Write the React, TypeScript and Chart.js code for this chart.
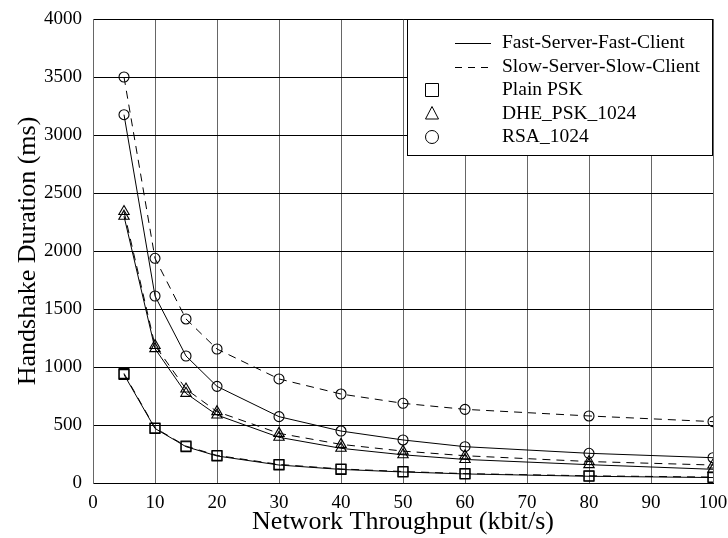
import React, { useEffect, useRef } from "react";
import { Chart, registerables } from "chart.js";

Chart.register(...registerables);

const throughput = [5, 10, 15, 20, 30, 40, 50, 60, 80, 100];
const fastPsk = [935, 470, 313, 233, 155, 117, 95, 78, 58, 47];
const slowPsk = [945, 475, 318, 238, 160, 121, 99, 81, 62, 51];
const fastDhe = [2300, 1158, 773, 586, 394, 299, 243, 203, 158, 118];
const slowDhe = [2340, 1185, 810, 615, 428, 333, 275, 235, 185, 155];
const fastRsa = [3175, 1612, 1095, 833, 572, 448, 371, 313, 256, 218];
const slowRsa = [3500, 1937, 1414, 1155, 897, 767, 687, 635, 578, 529];

const legendLines = ["Fast-Server-Fast-Client", "Slow-Server-Slow-Client"];
const legendMarkers = ["Plain PSK", "DHE_PSK_1024", "RSA_1024"];

const FONT = "'Liberation Serif', 'Times New Roman', serif";
const DASH = [8, 6];

function pts(vals: number[]) {
  return vals.map((v, i) => ({ x: throughput[i], y: v }));
}

const legendPlugin = {
  id: "customLegend",
  afterDraw(chart: any) {
    const { ctx, chartArea } = chart;
    const w = 306;
    const h = 136;
    const x0 = chartArea.right - w;
    const y0 = chartArea.top;
    ctx.save();
    ctx.fillStyle = "#fff";
    ctx.fillRect(x0, y0, w, h);
    ctx.strokeStyle = "#000";
    ctx.lineWidth = 1;
    ctx.strokeRect(Math.round(x0) + 0.5, Math.round(y0) + 0.5, w - 1, h);
    ctx.font = `19.5px ${FONT}`;
    ctx.fillStyle = "#000";
    ctx.textBaseline = "middle";
    ctx.textAlign = "left";
    const textX = x0 + 95;
    const rowY = (i: number) => y0 + 24 + i * 23.5;
    legendLines.forEach((label, i) => {
      const y = Math.round(rowY(i)) + 0.5;
      ctx.beginPath();
      ctx.setLineDash(i === 0 ? [] : [7, 6]);
      ctx.moveTo(x0 + 48, y);
      ctx.lineTo(x0 + 84, y);
      ctx.stroke();
      ctx.setLineDash([]);
      ctx.fillText(label, textX, rowY(i));
    });
    const mx = x0 + 25;
    legendMarkers.forEach((label, j) => {
      const i = j + 2;
      const y = rowY(i);
      ctx.beginPath();
      if (j === 0) {
        ctx.rect(mx - 6.5, y - 6.5, 13, 13);
      } else if (j === 1) {
        ctx.moveTo(mx, y - 7);
        ctx.lineTo(mx + 6.5, y + 5.5);
        ctx.lineTo(mx - 6.5, y + 5.5);
        ctx.closePath();
      } else {
        ctx.arc(mx, y, 6.5, 0, Math.PI * 2);
      }
      ctx.stroke();
      ctx.fillText(label, textX, y);
    });
    ctx.restore();
  },
};

export default function App() {
  const ref = useRef<HTMLCanvasElement | null>(null);
  useEffect(() => {
    if (!ref.current) return;
    const mk = (data: number[], dashed: boolean, style: string, radius: number) => ({
      data: pts(data),
      borderColor: "#000",
      backgroundColor: "rgba(0,0,0,0)",
      borderWidth: 1,
      borderDash: dashed ? DASH : [],
      pointStyle: style,
      pointRadius: radius,
      pointBorderWidth: 1.1,
      pointBorderColor: "#000",
      pointBackgroundColor: "rgba(0,0,0,0)",
      showLine: true,
      tension: 0,
      fill: false,
    });
    const chart = new Chart(ref.current, {
      type: "scatter",
      data: {
        datasets: [
          mk(fastPsk, false, "rect", 7),
          mk(slowPsk, true, "rect", 7),
          mk(fastDhe, false, "triangle", 6),
          mk(slowDhe, true, "triangle", 6),
          mk(fastRsa, false, "circle", 5),
          mk(slowRsa, true, "circle", 5),
        ] as any,
      },
      options: {
        animation: false,
        responsive: true,
        maintainAspectRatio: false,
        layout: { padding: { top: 19, right: 15, left: 0, bottom: 0 } },
        plugins: {
          legend: { display: false },
          tooltip: { enabled: false },
        },
        scales: {
          x: {
            type: "linear",
            min: 0,
            max: 100,
            afterFit: (s: any) => {
              s.height = 55;
            },
            ticks: {
              stepSize: 10,
              color: "#000",
              padding: 0,
              font: { family: FONT, size: 19 },
              maxRotation: 0,
              callback: (v: any) => String(v),
            },
            grid: { color: "#666", lineWidth: 1, drawTicks: true, tickLength: 9, tickColor: "rgba(0,0,0,0)" },
            border: { color: "#000", width: 1 },
            title: {
              display: true,
              text: "Network Throughput (kbit/s)",
              color: "#000",
              font: { family: FONT, size: 26 },
              padding: { top: 0, bottom: 0 },
            },
          },
          y: {
            type: "linear",
            min: 0,
            max: 4000,
            afterFit: (s: any) => {
              s.width = 93;
            },
            ticks: {
              stepSize: 500,
              color: "#000",
              padding: 0,
              font: { family: FONT, size: 19 },
              callback: (v: any) => String(v),
            },
            grid: { color: "#000", lineWidth: 1, drawTicks: true, tickLength: 11, tickColor: "rgba(0,0,0,0)" },
            border: { color: "#666", width: 1 },
            title: {
              display: true,
              text: "Handshake Duration (ms)",
              color: "#000",
              font: { family: FONT, size: 26 },
              padding: { top: 13, bottom: 0 },
            },
          },
        },
      },
      plugins: [legendPlugin],
    });
    return () => chart.destroy();
  }, []);
  return (
    <div style={{ position: "absolute", left: 0, top: 0, width: 728, height: 538, background: "#fff" }}>
      <canvas ref={ref} />
    </div>
  );
}
